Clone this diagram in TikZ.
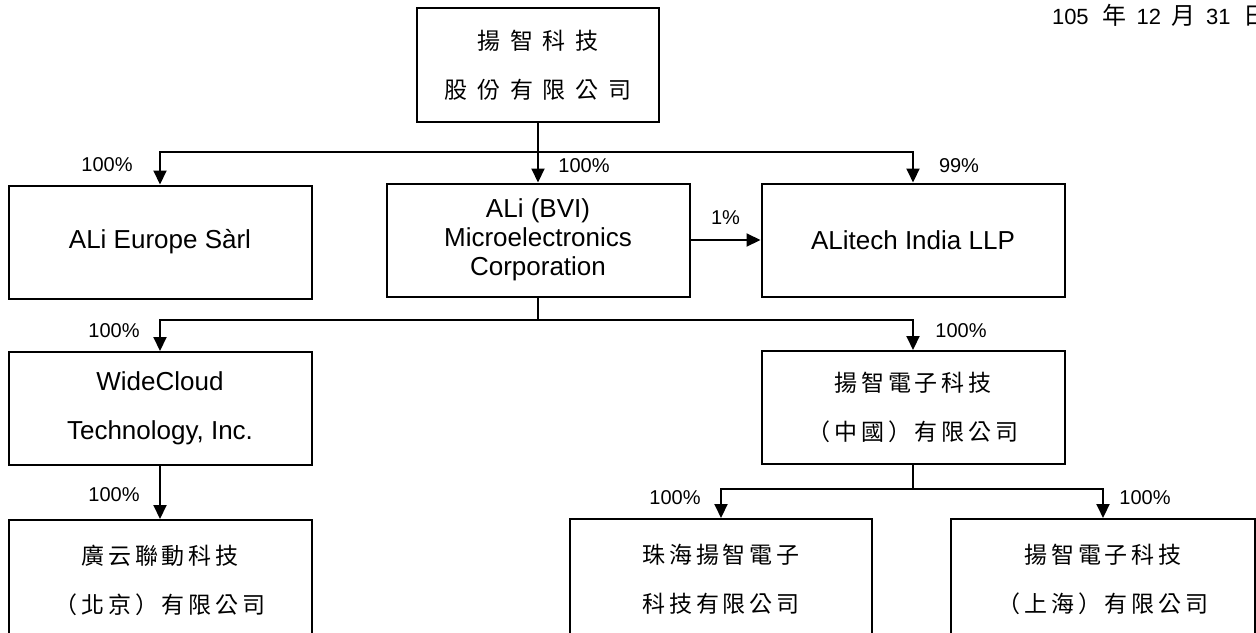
\documentclass[tikz,border=0pt]{standalone}
\usepackage{fontspec}
\setmainfont{Liberation Sans}
\newfontfamily\cjk[LetterSpace=17]{Noto Sans CJK TC}
\newfontfamily\cjkwide[LetterSpace=43]{Noto Sans CJK TC}
\newfontfamily\cjkplain{Noto Sans CJK TC}
\usetikzlibrary{arrows.meta}

\begin{document}
\begin{tikzpicture}[x=0.5pt,y=-0.5pt,line width=1pt,>={Triangle[width=6.5pt,length=7pt]},
	firm/.style={draw,rectangle,minimum width=151.5pt,minimum height=56.5pt,align=center,inner sep=0pt,font=\fontsize{13}{14.5}\selectfont},
	cnfirm/.style={firm,font=\fontsize{11.5}{24.5}\selectfont\cjk},
	pct/.style={inner sep=0pt,font=\fontsize{10}{12}\selectfont}]
	\useasboundingbox (0,0) rectangle (1256,632);

	\node[anchor=base west,inner sep=0pt,font=\fontsize{11}{12}\selectfont] (dt) at (1051,24)
		{105\hspace{7pt}{\cjkplain\fontsize{12}{12}\selectfont 年}\hspace{5pt}12\hspace{5pt}{\cjkplain\fontsize{12}{12}\selectfont 月}\hspace{5.5pt}31\hspace{6.5pt}{\cjkplain\fontsize{12}{12}\selectfont 日}};

	\node[cnfirm,minimum width=121pt,minimum height=57pt,font=\fontsize{11.5}{24.5}\selectfont\cjkwide] (a) at (538,65) {揚智科技\\股份有限公司};
	\node[firm] (b) at (160,242) {ALi Europe Sàrl};
	\node[firm] (c) at (538,240) {ALi (BVI)\\Microelectronics\\Corporation};
	\node[firm] (d) at (913,240) {ALitech India LLP};
	\node[firm,font=\fontsize{13}{24.5}\selectfont] (e) at (160,408.5) {WideCloud\\Technology, Inc.};
	\node[cnfirm] (f) at (913,407.5) {揚智電子科技\\（中國）有限公司};
	\node[cnfirm,minimum height=60pt] (g) at (160,580) {廣云聯動科技\\（北京）有限公司};
	\node[cnfirm,minimum width=151pt,minimum height=60pt] (h) at (721,579) {珠海揚智電子\\科技有限公司};
	\node[cnfirm,minimum width=152pt,minimum height=60pt] (i) at (1103,579) {揚智電子科技\\（上海）有限公司};

	\coordinate (j1) at (538,152);
	\coordinate (j2) at (538,320);
	\coordinate (j3) at (913,489);

	\draw (a.south) -- (j1);
	\draw[->] (j1) -| (b.north);
	\draw[->] (j1) -- (c.north);
	\draw[->] (j1) -| (d.north);
	\draw[->] (c.east) -- node[pct,above=7pt] (p4) {1\%} (d.west);
	\draw (c.south) -- (j2);
	\draw[->] (j2) -| (e.north);
	\draw[->] (j2) -| (f.north);
	\draw[->] (e.south) -- (g.north);
	\draw (f.south) -- (j3);
	\draw[->] (j3) -| (h.north);
	\draw[->] (j3) -| (i.north);

	\node[pct] (p1) at (107,165) {100\%};
	\node[pct] (p2) at (584,166) {100\%};
	\node[pct] (p3) at (959,166) {99\%};
	\node[pct] (p5) at (114,331) {100\%};
	\node[pct] (p6) at (961,331) {100\%};
	\node[pct] (p7) at (114,495) {100\%};
	\node[pct] (p8) at (675,498) {100\%};
	\node[pct] (p9) at (1145,498) {100\%};
\end{tikzpicture}
\end{document}
